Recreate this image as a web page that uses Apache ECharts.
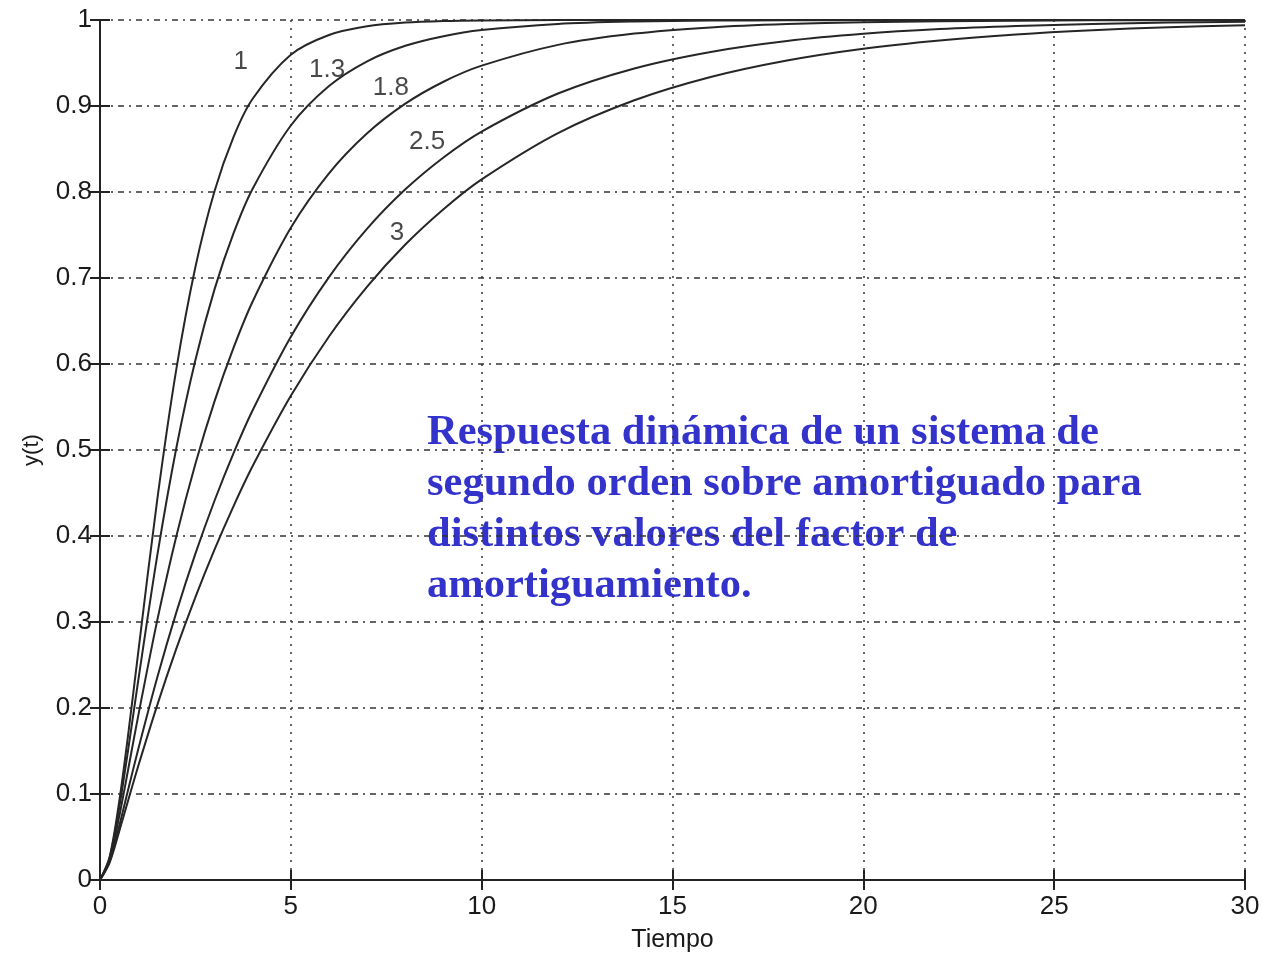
<!DOCTYPE html>
<html>
<head>
<meta charset="utf-8">
<title>Respuesta sistema de segundo orden</title>
<script src="https://cdn.jsdelivr.net/npm/echarts@6/dist/echarts.min.js"></script>
<style>
  html, body { margin: 0; padding: 0; background: #fff; }
  #chart { width: 1263px; height: 954px; }
</style>
</head>
<body>
<div id="chart"></div>
<script>
// tiempo (s)
var tiempo = [0, 0.25, 0.5, 0.75, 1, 1.5, 2, 2.5, 3, 3.5, 4, 5, 6, 7, 8, 9, 10, 12, 14, 16, 18, 20, 22, 24, 26, 28, 30];

// respuesta y(t) por factor de amortiguamiento
var curva1 = [0, 0.0265, 0.0902, 0.1733, 0.2642, 0.4422, 0.5940, 0.7127, 0.8009, 0.8641, 0.9084, 0.9596, 0.9826, 0.9927, 0.9970, 0.9988, 0.9995, 0.9999, 1, 1, 1, 1, 1, 1, 1, 1, 1];
var curva13 = [0, 0.0253, 0.0831, 0.1551, 0.2314, 0.3772, 0.5023, 0.6047, 0.6868, 0.7521, 0.8038, 0.8773, 0.9232, 0.9520, 0.9700, 0.9812, 0.9883, 0.9954, 0.9982, 0.9993, 0.9997, 0.9999, 1, 1, 1, 1, 1];
var curva18 = [0, 0.0235, 0.0731, 0.1314, 0.1906, 0.3019, 0.3997, 0.4840, 0.5566, 0.6190, 0.6727, 0.7583, 0.8216, 0.8682, 0.9027, 0.9282, 0.9469, 0.9711, 0.9842, 0.9914, 0.9953, 0.9974, 0.9986, 0.9992, 0.9996, 0.9998, 0.9999];
var curva25 = [0, 0.0213, 0.0622, 0.1072, 0.1518, 0.2355, 0.3112, 0.3795, 0.4410, 0.4964, 0.5462, 0.6317, 0.7011, 0.7574, 0.8031, 0.8402, 0.8703, 0.9145, 0.9437, 0.9629, 0.9756, 0.9839, 0.9894, 0.9930, 0.9954, 0.9970, 0.9980];
var curva3 = [0, 0.0200, 0.0560, 0.0945, 0.1323, 0.2034, 0.2690, 0.3290, 0.3842, 0.4348, 0.4813, 0.5630, 0.6320, 0.6900, 0.7389, 0.7800, 0.8147, 0.8685, 0.9067, 0.9338, 0.9530, 0.9667, 0.9763, 0.9832, 0.9881, 0.9916, 0.9940];

// etiquetas de las curvas
var etiquetas = ['1', '1.3', '1.8', '2.5', '3'];
var etiquetaT = [3.69, 5.95, 7.62, 8.57, 7.78];
var etiquetaY = [0.951, 0.942, 0.921, 0.858, 0.753];

var texto = 'Respuesta dinámica de un sistema de\nsegundo orden sobre amortiguado para\ndistintos valores del factor de\namortiguamiento.';

function pares(ys) {
  var out = [];
  for (var i = 0; i < tiempo.length; i++) {
    out.push([tiempo[i], ys[i]]);
  }
  return out;
}

var curvas = [curva1, curva13, curva18, curva25, curva3];
var series = [];
for (var k = 0; k < curvas.length; k++) {
  series.push({
    name: etiquetas[k],
    type: 'line',
    data: pares(curvas[k]),
    showSymbol: false,
    smooth: 0.3,
    clip: false,
    lineStyle: { color: '#262626', width: 2 }
  });
}

var puntosEtiqueta = [];
for (var j = 0; j < etiquetas.length; j++) {
  puntosEtiqueta.push({ name: etiquetas[j], value: [etiquetaT[j], etiquetaY[j]] });
}
series.push({
  type: 'scatter',
  data: puntosEtiqueta,
  symbolSize: 0,
  silent: true,
  label: {
    show: true,
    position: 'inside',
    formatter: '{b}',
    fontFamily: 'Liberation Sans',
    fontSize: 26,
    color: '#1a1a1a'
  }
});

var gridLineH = { color: '#333', width: 1.5, type: [6, 5, 2, 5] };
var gridLineV = { color: '#333', width: 1.5, type: [2, 6] };
var ejeLinea = { show: true, lineStyle: { color: '#222', width: 2 } };
var ejeTick = { show: true, inside: true, length: 10, lineStyle: { color: '#222', width: 2 } };
var etiquetaEje = { fontFamily: 'Liberation Sans', fontSize: 26, color: '#1a1a1a' };

var option = {
  animation: false,
  backgroundColor: '#fff',
  grid: { left: 100, right: 18, top: 20, bottom: 74, outerBoundsMode: 'none', containLabel: false },
  xAxis: [{
    type: 'value',
    min: 0, max: 30, interval: 5,
    position: 'bottom',
    axisLine: ejeLinea,
    axisTick: ejeTick,
    axisLabel: Object.assign({ margin: 14 }, etiquetaEje),
    splitLine: { show: true, lineStyle: gridLineV },
    name: 'Tiempo',
    nameLocation: 'middle',
    nameGap: 48,
    nameTextStyle: { fontFamily: 'Liberation Sans', fontSize: 25, color: '#1a1a1a' }
  }, {
    type: 'value',
    min: 0, max: 30, interval: 5,
    position: 'top',
    axisLine: ejeLinea,
    axisTick: ejeTick,
    axisLabel: { show: false },
    splitLine: { show: false }
  }],
  yAxis: [{
    type: 'value',
    min: 0, max: 1, interval: 0.1,
    position: 'left',
    axisLine: ejeLinea,
    axisTick: ejeTick,
    axisLabel: Object.assign({ margin: 8, formatter: function (v) { return +v.toFixed(1) + ''; } }, etiquetaEje),
    splitLine: { show: true, lineStyle: gridLineH },
    name: 'y(t)',
    nameLocation: 'middle',
    nameGap: 57,
    nameTextStyle: { fontFamily: 'Liberation Sans', fontSize: 22, color: '#1a1a1a' }
  }, {
    type: 'value',
    min: 0, max: 1, interval: 0.1,
    position: 'right',
    axisLine: ejeLinea,
    axisTick: ejeTick,
    axisLabel: { show: false },
    splitLine: { show: false }
  }],
  graphic: [{
    type: 'text',
    left: 427,
    top: 408,
    silent: true,
    style: {
      text: texto,
      fontFamily: 'Liberation Serif',
      fontWeight: 'bold',
      fontSize: 42.5,
      lineHeight: 51,
      fill: '#3333cc'
    }
  }],
  series: series
};

var myChart = echarts.init(document.getElementById('chart'));
myChart.setOption(option);
</script>
</body>
</html>
